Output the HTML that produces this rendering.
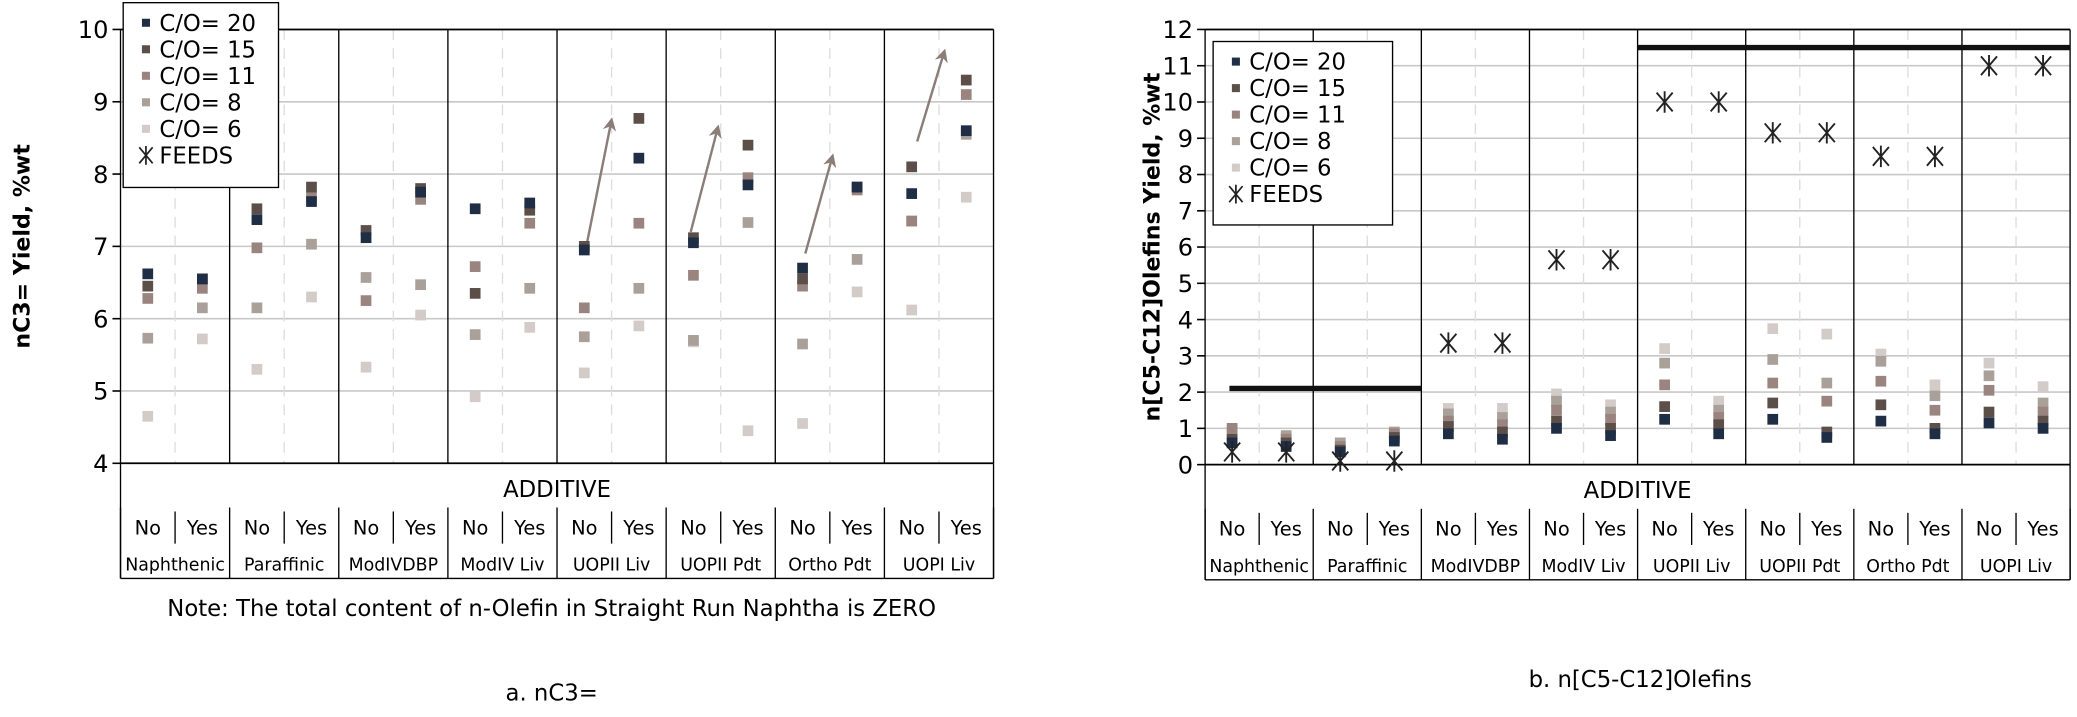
<!DOCTYPE html>
<html><head><meta charset="utf-8"><style>
body{margin:0;background:#fff;font-family:"Liberation Sans","DejaVu Sans",sans-serif}
svg text{font-family:"DejaVu Sans","Liberation Sans",sans-serif}
</style></head><body>
<svg width="2077" height="712" xmlns="http://www.w3.org/2000/svg"><g id="s" transform="scale(1.339)"></g></svg>
<script>
const groups=["Naphthenic","Paraffinic","ModIVDBP","ModIV Liv","UOPII Liv","UOPII Pdt","Ortho Pdt","UOPI Liv"];
const seriesNames=["C/O= 20","C/O= 15","C/O= 11","C/O= 8","C/O= 6"];
const colors=["#1f2d45","#5c4e48","#9a8480","#a9a09a","#d3cbc7"];
// left chart: 16 points per series (No,Yes per group)
const nc3_co20=[6.62,6.55,7.37,7.62,7.12,7.75,7.52,7.6,6.95,8.22,7.05,7.85,6.7,7.82,7.73,8.6];
const nc3_co15=[6.45,6.55,7.52,7.82,7.22,7.8,6.35,7.5,7.0,8.77,7.12,8.4,6.55,7.82,8.1,9.3];
const nc3_co11=[6.28,6.42,6.98,7.68,6.25,7.65,6.72,7.32,6.15,7.32,6.6,7.95,6.45,7.78,7.35,9.1];
const nc3_co8=[5.73,6.15,6.15,7.03,6.57,6.47,5.78,6.42,5.75,6.42,5.7,7.33,5.65,6.82,7.35,8.55];
const nc3_co6=[4.65,5.72,5.3,6.3,5.33,6.05,4.92,5.88,5.25,5.9,5.68,4.45,4.55,6.37,6.12,7.68];
const leftTicks=[4,5,6,7,8,9,10];
// right chart
const ol_co20=[0.6,0.5,0.35,0.65,0.85,0.7,1.0,0.8,1.25,0.85,1.25,0.75,1.2,0.85,1.15,1.0];
const ol_co15=[0.7,0.6,0.4,0.75,1.05,0.9,1.2,1.0,1.6,1.1,1.7,0.9,1.65,1.0,1.45,1.2];
const ol_co11=[1.0,0.7,0.5,0.85,1.2,1.1,1.5,1.25,2.2,1.3,2.25,1.75,2.3,1.5,2.05,1.45];
const ol_co8=[0.9,0.8,0.6,0.9,1.4,1.3,1.75,1.45,2.8,1.5,2.9,2.25,2.85,1.9,2.45,1.7];
const ol_co6=[0.8,0.75,0.6,0.85,1.55,1.55,1.95,1.65,3.2,1.75,3.75,3.6,3.05,2.2,2.8,2.15];
const ol_feeds=[0.35,0.35,0.1,0.1,3.35,3.35,5.65,5.65,10,10,9.15,9.15,8.5,8.5,11,11];
const rightTicks=[0,1,2,3,4,5,6,7,8,9,10,11,12];
const NS="http://www.w3.org/2000/svg";
const svg=document.getElementById('s');
function mk(tag,at,parent,txt){const e=document.createElementNS(NS,tag);for(const k in at)e.setAttribute(k,at[k]);if(txt!==undefined)e.textContent=txt;(parent||svg).appendChild(e);return e;}

function chart(cfg){
  const g=mk('g',{});
  
  
  const {x0,x1,yTop,yBot,min,max}=cfg;
  const Y=v=>yBot-(v-min)/(max-min)*(yBot-yTop);
  const sw=(x1-x0)/16;
  const X=i=>x0+sw*(i+0.5);
  cfg.ticks.forEach(t=>{
    const l=mk('line',{x1:x0,x2:x1,y1:Y(t),y2:Y(t),stroke:'#c8c8c8','stroke-width':1.2},g);
    
    mk('line',{x1:x0-6,x2:x0,y1:Y(t),y2:Y(t),stroke:'#000','stroke-width':1.2},g);
    const tx=mk('text',{x:x0-9,y:Y(t)+6.5,'text-anchor':'end','font-size':18},g,t);
    
  });
  for(let k=0;k<8;k++){
    const xm=x0+sw*(2*k+1);
    mk('line',{x1:xm,x2:xm,y1:yTop,y2:yBot,stroke:'#ddd','stroke-dasharray':'8 6','stroke-width':1},g);
  }
  for(let k=0;k<=8;k++){
    const xg=x0+sw*2*k;
    mk('line',{x1:xg,x2:xg,y1:yTop,y2:yBot,stroke:'#000','stroke-width':1},g);
    mk('line',{x1:xg,x2:xg,y1:yBot+33,y2:yBot+86,stroke:'#000','stroke-width':1},g);
  }
  mk('line',{x1:x0,x2:x0,y1:yBot,y2:yBot+86,stroke:'#000','stroke-width':1},g);
  mk('line',{x1:x1,x2:x1,y1:yBot,y2:yBot+86,stroke:'#000','stroke-width':1},g);
  mk('line',{x1:x0,x2:x1,y1:yTop,y2:yTop,stroke:'#000','stroke-width':1.3},g);
  mk('line',{x1:x0,x2:x1,y1:yBot,y2:yBot,stroke:'#000','stroke-width':1.3},g);
  mk('line',{x1:x0,x2:x1,y1:yBot+86,y2:yBot+86,stroke:'#000','stroke-width':1},g);
  const ad=mk('text',{x:(x0+x1)/2,y:yBot+25,'text-anchor':'middle','font-size':17},g,'ADDITIVE');
  
  for(let i=0;i<16;i++){
    const t=mk('text',{x:X(i),y:yBot+53,'text-anchor':'middle','font-size':14.5},g,i%2?'Yes':'No');
    
    if(i%2===1) mk('line',{x1:x0+sw*i,x2:x0+sw*i,y1:yBot+36,y2:yBot+60,stroke:'#000','stroke-width':1},g);
  }
  groups.forEach((n,k)=>{
    const t=mk('text',{x:x0+sw*(2*k+1),y:yBot+80,'text-anchor':'middle','font-size':13},g,n);
    
  });
  (cfg.thick||[]).forEach(s=>{
    mk('line',{x1:x0+sw*s[0],x2:x0+sw*s[1],y1:Y(s[2]),y2:Y(s[2]),stroke:'#111','stroke-width':4},g);
  });
  (cfg.arrows||[]).forEach(a=>{
    const ar=mk('line',{x1:x0+sw*a[0],y1:Y(a[1]),x2:x0+sw*a[2],y2:Y(a[3]),stroke:'#8b7d78','stroke-width':1.8,'marker-end':'url(#ah)'},g);
    
  });
  cfg.series.slice().reverse().forEach((arr,ri)=>{
    const si=cfg.series.length-1-ri;
    arr.forEach((v,i)=>{
      const r=mk('rect',{x:X(i)-4,y:Y(v)-4,width:8,height:8,fill:colors[si]},g);
      
      
    });
  });
  (cfg.feeds||[]).forEach((v,i)=>{
    const cx=X(i),cy=Y(v);
    const p=mk('path',{d:`M${cx-6},${cy-7}L${cx+6},${cy+7}M${cx+6},${cy-7}L${cx-6},${cy+7}M${cx},${cy-8}L${cx},${cy+8}`,stroke:'#222','stroke-width':1.4,fill:'none'},g);
    
  });
  const L=cfg.legend;
  const lg=mk('g',{},g);
  
  mk('rect',{x:L[0],y:L[1],width:L[2],height:L[3],fill:'#fff',stroke:'#000','stroke-width':1},lg);
  seriesNames.forEach((n,i)=>{
    const yy=L[1]+21+i*19.8;
    mk('rect',{x:L[0]+14,y:yy-9,width:6,height:6,fill:colors[i]},lg);
    const t=mk('text',{x:L[0]+27,y:yy,'font-size':17},lg,n);
    
  });
  const yy=L[1]+21+5*19.8;
  const cx=L[0]+17,cy=yy-6;
  mk('path',{d:`M${cx-5},${cy-6}L${cx+5},${cy+6}M${cx+5},${cy-6}L${cx-5},${cy+6}M${cx},${cy-7}L${cx},${cy+7}`,stroke:'#222','stroke-width':1.3},lg);
  const t=mk('text',{x:L[0]+27,y:yy,'font-size':17},lg,'FEEDS');
  
  const yt=mk('text',{transform:`translate(${cfg.ytx},${(yTop+yBot)/2}) rotate(-90)`,'text-anchor':'middle','font-size':16.5,'font-weight':'bold'},g,cfg.ytitle);
  
}
const defs=mk('defs',{});
const m=mk('marker',{id:'ah',markerWidth:10,markerHeight:10,refX:8,refY:5,orient:'auto',markerUnits:'userSpaceOnUse'},defs);
mk('path',{d:'M0,0L10,5L0,10L3,5Z',fill:'#8b7d78'},m);

chart({name:'nc3-chart',x0:90,x1:742,yTop:22,yBot:346,min:4,max:10,ticks:leftTicks,
  series:[nc3_co20,nc3_co15,nc3_co11,nc3_co8,nc3_co6],
  arrows:[[8.55,7.05,9.0,8.75],[10.45,7.2,10.95,8.65],[12.55,6.9,13.05,8.25],[14.6,8.45,15.1,9.7]],
  legend:[92,2,116,138],ytx:22,ytitle:'nC3= Yield, %wt'});
chart({name:'olefins-chart',x0:900,x1:1546,yTop:22,yBot:347,min:0,max:12,ticks:rightTicks,
  series:[ol_co20,ol_co15,ol_co11,ol_co8,ol_co6],feeds:ol_feeds,
  thick:[[0.45,4,2.1],[8,16,11.5]],
  legend:[906,31,134,137],ytx:866,ytitle:'n[C5-C12]Olefins Yield, %wt'});

const c1=mk('text',{x:412,y:460,'text-anchor':'middle','font-size':17},svg,'Note: The total content of n-Olefin in Straight Run Naphtha is ZERO');

const c2=mk('text',{x:412,y:523,'text-anchor':'middle','font-size':17},svg,'a. nC3=');

const c3=mk('text',{x:1225,y:513,'text-anchor':'middle','font-size':17},svg,'b. n[C5-C12]Olefins');

</script>
</body></html>
